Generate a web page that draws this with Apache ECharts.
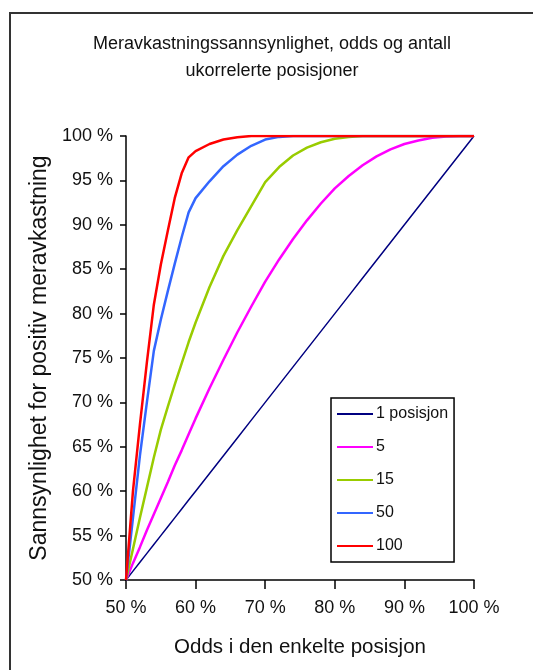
<!DOCTYPE html>
<html>
<head>
<meta charset="utf-8">
<title>Meravkastningssannsynlighet</title>
<script src="https://cdn.jsdelivr.net/npm/echarts@6/dist/echarts.min.js"></script>
<style>
  html, body { margin: 0; padding: 0; background: #fff; }
  #chart { width: 533px; height: 670px; }
</style>
</head>
<body>
<div id="chart"></div>
<script>
// Odds for each single position (%)
const odds = [50, 51, 52, 53, 54, 55, 56, 57, 58, 59, 60,
  62, 64, 66, 68, 70, 72, 74, 76, 78, 80,
  82, 84, 86, 88, 90, 92, 94, 96, 98, 100];

// Probability of positive excess return (%) by number of uncorrelated positions
const pos1 = [50, 51, 52, 53, 54, 55, 56, 57, 58, 59, 60,
  62, 64, 66, 68, 70, 72, 74, 76, 78, 80,
  82, 84, 86, 88, 90, 92, 94, 96, 98, 100];
const pos5 = [50, 51.9, 53.7, 55.6, 57.4, 59.2, 61.0, 62.9, 64.6, 66.4, 68.2,
  71.6, 74.8, 77.9, 80.8, 83.6, 86.1, 88.4, 90.5, 92.4, 94.1,
  95.5, 96.7, 97.7, 98.5, 99.1, 99.5, 99.8, 99.95, 100, 100];
const pos15 = [50, 53.5, 57.0, 60.4, 63.8, 66.9, 69.5, 72.0, 74.4, 76.8, 79.0,
  83.0, 86.5, 89.4, 92.1, 94.8, 96.5, 97.8, 98.7, 99.3, 99.7,
  99.9, 100, 100, 100, 100, 100, 100, 100, 100, 100];
const pos50 = [50, 57.0, 64.0, 70.0, 75.8, 79.3, 82.5, 85.6, 88.6, 91.4, 93.0,
  94.9, 96.6, 97.9, 98.9, 99.6, 99.9, 100, 100, 100, 100,
  100, 100, 100, 100, 100, 100, 100, 100, 100, 100];
const pos100 = [50, 60.0, 67.5, 74.5, 81.0, 85.5, 89.3, 93.0, 95.8, 97.6, 98.3,
  99.1, 99.6, 99.85, 100, 100, 100, 100, 100, 100, 100,
  100, 100, 100, 100, 100, 100, 100, 100, 100, 100];

const seriesNames = ['1 posisjon', '5', '15', '50', '100'];
const seriesValues = [pos1, pos5, pos15, pos50, pos100];
const seriesColors = ['#000080', '#FF00FF', '#99CC00', '#3366FF', '#FF0000'];
const seriesWidths = [1.5, 2.5, 2.5, 2.5, 2.5];

const FONT = '"Liberation Sans", Arial, sans-serif';
const TEXT = '#111';

const chart = echarts.init(document.getElementById('chart'), null, { renderer: 'canvas' });

const axisCommon = {
  type: 'value',
  axisLine: { show: true, lineStyle: { color: '#000', width: 1.5 } },
  splitLine: { show: false },
  nameLocation: 'middle',
  nameTextStyle: { color: TEXT, fontFamily: FONT }
};

chart.setOption({
  animation: false,
  backgroundColor: '#fff',
  textStyle: { fontFamily: FONT },
  graphic: [{
    type: 'rect',
    shape: { x: 10, y: 13, width: 600, height: 700 },
    style: { fill: 'none', stroke: '#333', lineWidth: 2 },
    silent: true
  }],
  title: {
    text: 'Meravkastningssannsynlighet, odds og antall\nukorrelerte posisjoner',
    left: 272,
    top: 31,
    padding: 0,
    textAlign: 'center',
    textStyle: { fontFamily: FONT, fontSize: 18, fontWeight: 'normal', color: TEXT, lineHeight: 27 }
  },
  grid: { left: 126, right: 59, top: 136, bottom: 90 },
  xAxis: Object.assign({}, axisCommon, {
    min: 50, max: 100, interval: 10,
    axisTick: { show: true, length: 9, lineStyle: { color: '#000', width: 1.5 } },
    axisLabel: { formatter: '{value} %', fontSize: 18, color: TEXT, fontFamily: FONT, margin: 19 },
    name: 'Odds i den enkelte posisjon',
    nameGap: 57,
    nameTextStyle: { color: TEXT, fontFamily: FONT, fontSize: 20.5 }
  }),
  yAxis: Object.assign({}, axisCommon, {
    min: 50, max: 100, interval: 5,
    axisTick: { show: true, length: 6, lineStyle: { color: '#000', width: 1.5 } },
    axisLabel: { formatter: '{value} %', fontSize: 18, color: TEXT, fontFamily: FONT, margin: 13 },
    name: 'Sannsynlighet for positiv meravkastning',
    nameGap: 74,
    nameTextStyle: { color: TEXT, fontFamily: FONT, fontSize: 23 }
  }),
  legend: {
    orient: 'vertical',
    left: 331,
    top: 398,
    padding: [8, 6, 8, 5],
    itemWidth: 36,
    itemHeight: 14,
    itemGap: 17,
    borderColor: '#000',
    borderWidth: 1.5,
    backgroundColor: '#fff',
    itemStyle: { opacity: 0 },
    textStyle: { fontFamily: FONT, fontSize: 16, color: TEXT, padding: [0, 0, 0, -2] },
    data: seriesNames
  },
  series: seriesNames.map((name, k) => ({
    name: name,
    type: 'line',
    symbol: 'none',
    smooth: false,
    lineStyle: { color: seriesColors[k], width: seriesWidths[k] },
    itemStyle: { color: seriesColors[k] },
    data: odds.map((x, i) => [x, seriesValues[k][i]])
  }))
});
</script>
</body>
</html>
